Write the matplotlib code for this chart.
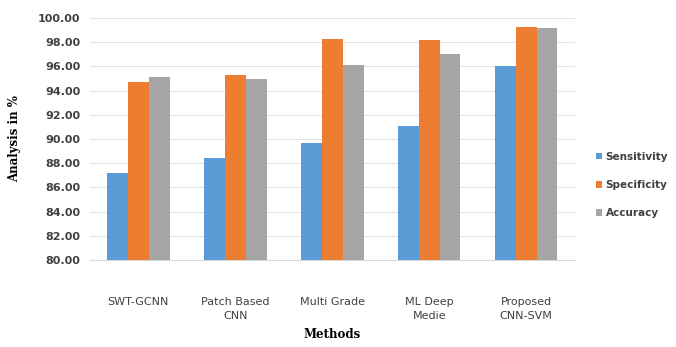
import numpy as np
import matplotlib
matplotlib.use("Agg")
import matplotlib.pyplot as plt
from matplotlib.ticker import FormatStrFormatter

# methods compared and the three scores for each
methods = ["SWT-GCNN", "Patch Based\nCNN", "Multi Grade", "ML Deep\nMedie", "Proposed\nCNN-SVM"]
sensitivity = [87.2, 88.4, 89.7, 91.1, 96.0]
specificity = [94.7, 95.3, 98.3, 98.2, 99.3]
accuracy = [95.15, 95.0, 96.1, 97.0, 99.2]

series = [("Sensitivity", sensitivity, "#5B9BD5"),
          ("Specificity", specificity, "#ED7D31"),
          ("Accuracy", accuracy, "#A5A5A5")]

fig = plt.figure(figsize=(6.76, 3.47), dpi=100)
ax = fig.add_axes([0.133, 0.251, 0.717, 0.697])

x = np.arange(len(methods))
w = 0.215
for i, (name, vals, col) in enumerate(series):
    ax.bar(x + (i - 1) * w, np.array(vals) - 80, width=w, bottom=80, color=col, label=name, zorder=3)

ax.set_ylim(80, 100)
ax.set_xlim(-0.5, len(methods) - 0.5)
ax.set_yticks(np.arange(80, 100.1, 2))
ax.yaxis.set_major_formatter(FormatStrFormatter("%.2f"))
ax.set_xticks(x)
ax.set_xticklabels(methods, fontsize=8, color="#404040", va="top", linespacing=1.5)
for lbl in ax.get_yticklabels():
    lbl.set_fontsize(8)
    lbl.set_fontweight("bold")
    lbl.set_color("#404040")

ax.grid(axis="y", color="#E3E3E3", linewidth=0.8, zorder=0)
for s in ["top", "right", "left"]:
    ax.spines[s].set_visible(False)
ax.spines["bottom"].set_color("#D9D9D9")
ax.tick_params(axis="y", length=0, pad=7)
ax.tick_params(axis="x", length=0, pad=27)

ax.set_ylabel("Analysis in %", family="DejaVu Serif", fontweight="bold", fontsize=8.5, labelpad=12)
ax.set_xlabel("Methods", family="DejaVu Serif", fontweight="bold", fontsize=8.5, labelpad=5)

leg = ax.legend(loc="center left", bbox_to_anchor=(1.025, 0.31), frameon=False,
                fontsize=7.5, handlelength=0.6, handleheight=0.6, handletextpad=0.3,
                labelspacing=1.75)
for t in leg.get_texts():
    t.set_color("#404040")
    t.set_fontweight("bold")

fig.savefig("out.png", dpi=100)
